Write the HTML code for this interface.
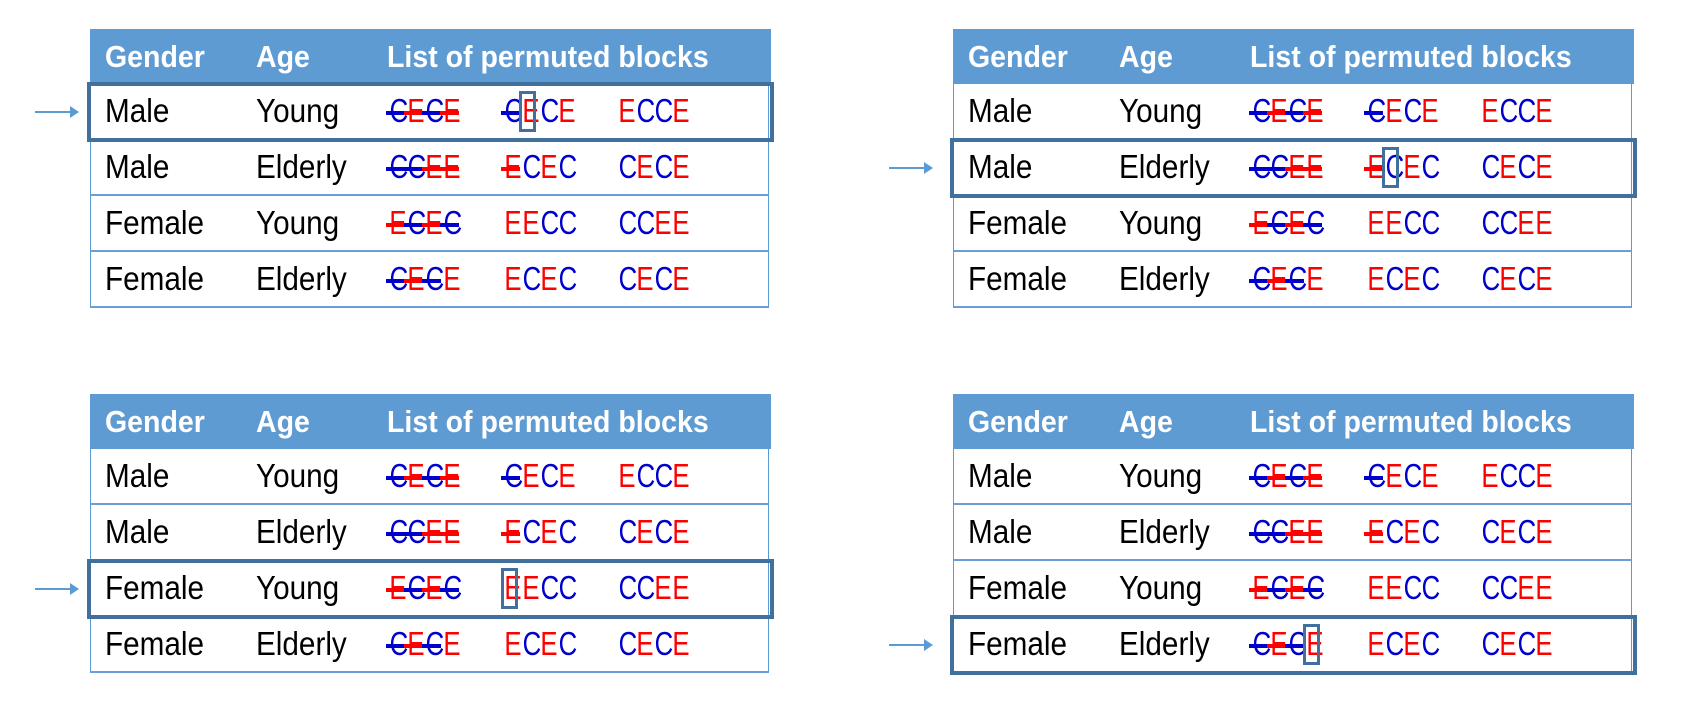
<!DOCTYPE html>
<html><head><meta charset="utf-8"><style>
body{margin:0;width:1696px;height:720px;background:#fff;position:relative;overflow:hidden;font-family:"Liberation Sans",sans-serif}
.tbl{position:absolute;width:681px}
.hdr{position:absolute;left:0;top:0;width:681px;height:55px;background:#5f9bd3}
.ht{position:absolute;top:0;line-height:55px;color:#fff;font-weight:bold;font-size:31px;transform:scaleX(0.92);transform-origin:left center;white-space:nowrap}
.row{position:absolute;left:0;width:679px;height:56px;border-left:1px solid #5b9bd5;border-right:1px solid #5b9bd5;border-bottom:2px solid #6a9fd6;box-sizing:border-box}
.ct{position:absolute;top:0;line-height:54px;font-size:33px;color:#000;transform:scaleX(0.9);transform-origin:left center;white-space:nowrap}
.lt{position:absolute;top:0;width:18px;height:54px;line-height:54px;font-size:33px;text-align:center}
.lt span{display:inline-block;transform:scaleX(0.78)}
.st{position:absolute;height:4px;top:27px;width:19px}
.hl{position:absolute;border:4px solid #41709c;box-sizing:border-box}
.box{position:absolute;border:3px solid #41709c;box-sizing:border-box;width:17px;height:41px}
.arrow{position:absolute;height:2px;background:#5b9bd5}
.arrow:after{content:"";position:absolute;right:-2px;top:-5px;border-left:9px solid #5b9bd5;border-top:6px solid transparent;border-bottom:6px solid transparent}
</style></head><body>
<script>
const genders=["Male","Male","Female","Female"];
const ages=["Young","Elderly","Young","Elderly"];
const blocks=[["CECE","CECE","ECCE"],["CCEE","ECEC","CECE"],["ECEC","EECC","CCEE"],["CECE","ECEC","CECE"]];
const struck=[[4,1,0],[4,1,0],[4,0,0],[3,0,0]];
const origins=[[90,29],[953,29],[90,394],[953,394]];
const boxes=[[0,1,1],[1,1,1],[2,1,0],[3,0,3]];
const blockX=[297,412,526];
origins.forEach((o,t)=>{
  const tb=document.createElement('div');tb.className='tbl';tb.style.left=o[0]+'px';tb.style.top=o[1]+'px';
  
  
  document.body.appendChild(tb);
  const h=document.createElement('div');h.className='hdr';
  
  
  tb.appendChild(h);
  [["Gender",15],["Age",166],["List of permuted blocks",297]].forEach(([s,x])=>{
    const e=document.createElement('div');e.className='ht';e.textContent=s;e.style.left=x+'px';
    
    
    h.appendChild(e);});
  for(let r=0;r<4;r++){
    const row=document.createElement('div');row.className='row';row.style.top=(55+r*56)+'px';
    
    
    tb.appendChild(row);
    const g=document.createElement('div');g.className='ct';g.style.left='14px';g.textContent=genders[r];
    
    
    row.appendChild(g);
    const a=document.createElement('div');a.className='ct';a.style.left='165px';a.textContent=ages[r];
    
    
    row.appendChild(a);
    blocks[r].forEach((b,bi)=>{
      [...b].forEach((ch,li)=>{
        const x=blockX[bi]+li*18-1;
        const col=ch==='E'?'#ff0000':'#0000cc';
        const l=document.createElement('div');l.className='lt';l.style.left=x+'px';l.style.color=col;
        l.innerHTML='<span>'+ch+'</span>';
        
        
        row.appendChild(l);
        if(li<struck[r][bi]){
          const s=document.createElement('div');s.className='st';s.style.left=(x-1)+'px';s.style.background=col;
          
          
          row.appendChild(s);
        }
      });
    });
  }
  const bx=boxes[t];
  const hl=document.createElement('div');hl.className='hl';
  hl.style.left=(o[0]-3)+'px';hl.style.top=(o[1]+53+bx[0]*56)+'px';hl.style.width='687px';hl.style.height='60px';
  
  
  document.body.appendChild(hl);
  const sb=document.createElement('div');sb.className='box';
  sb.style.left=(o[0]+blockX[bx[1]]+bx[2]*18-1)+'px';sb.style.top=(o[1]+62+bx[0]*56)+'px';
  
  
  document.body.appendChild(sb);
  const ar=document.createElement('div');ar.className='arrow';
  const ax=t%2===0?35:889;
  ar.style.left=ax+'px';ar.style.width='42px';ar.style.top=(o[1]+82+bx[0]*56)+'px';
  
  
  document.body.appendChild(ar);
});
</script>
</body></html>
